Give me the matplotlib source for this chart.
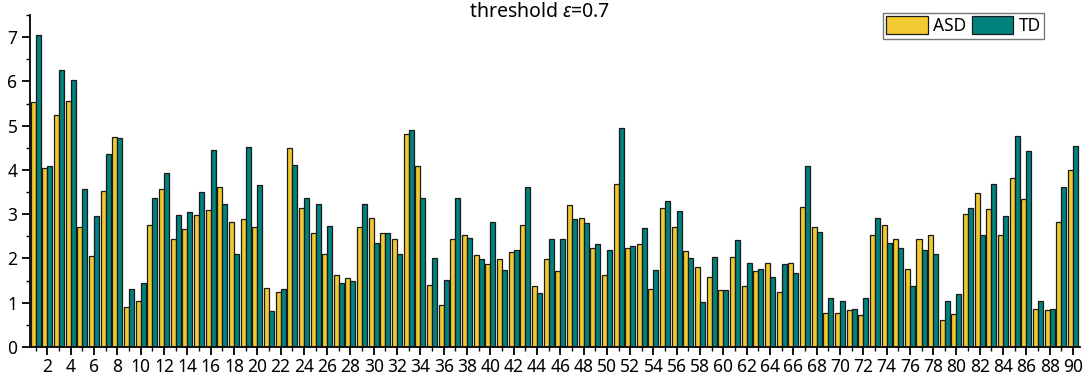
import matplotlib
matplotlib.use("Agg")
import matplotlib.pyplot as plt
from matplotlib.ticker import MultipleLocator
import numpy as np

categories = list(range(1, 91))
asd = [5.54, 4.05, 5.23, 5.56, 2.70, 2.05, 3.52, 4.75, 0.91, 1.03,
       2.75, 3.56, 2.45, 2.66, 2.98, 3.09, 3.61, 2.83, 2.89, 2.70,
       1.34, 1.25, 4.49, 3.14, 2.57, 2.11, 1.63, 1.56, 2.70, 2.91,
       2.57, 2.45, 4.81, 4.10, 1.41, 0.96, 2.45, 2.53, 2.07, 1.88,
       1.98, 2.14, 2.75, 1.38, 1.98, 1.72, 3.20, 2.91, 2.24, 1.63,
       3.69, 2.23, 2.32, 1.32, 3.13, 2.72, 2.17, 1.81, 1.59, 1.29,
       2.04, 1.37, 1.72, 1.90, 1.25, 1.90, 3.16, 2.70, 0.76, 0.76,
       0.83, 0.73, 2.53, 2.76, 2.45, 1.77, 2.44, 2.52, 0.60, 0.74,
       3.00, 3.48, 3.11, 2.52, 3.81, 3.35, 0.85, 0.83, 2.83, 4.00]
td = [7.05, 4.10, 6.25, 6.04, 3.56, 2.96, 4.37, 4.73, 1.31, 1.44,
      3.36, 3.92, 2.98, 3.05, 3.50, 4.46, 3.23, 2.11, 4.52, 3.67,
      0.81, 1.31, 4.12, 3.37, 3.23, 2.73, 1.44, 1.50, 3.22, 2.36,
      2.57, 2.11, 4.91, 3.37, 2.00, 1.52, 3.37, 2.47, 1.98, 2.82,
      1.75, 2.18, 3.62, 1.21, 2.44, 2.44, 2.89, 2.80, 2.33, 2.19,
      4.95, 2.29, 2.68, 1.75, 3.29, 3.08, 2.02, 1.02, 2.04, 1.28,
      2.42, 1.90, 1.77, 1.58, 1.87, 1.68, 4.09, 2.59, 1.10, 1.05,
      0.85, 1.10, 2.91, 2.36, 2.24, 1.38, 2.19, 2.10, 1.03, 1.19,
      3.13, 2.52, 3.68, 2.97, 4.77, 4.42, 1.05, 0.85, 3.61, 4.55]
series_names = ["ASD", "TD"]
title_text = r"threshold $\mathit{\varepsilon}$=0.7"

plt.rcParams['font.family'] = ['Noto Sans', 'DejaVu Sans']
plt.rcParams['mathtext.fontset'] = 'custom'
plt.rcParams['mathtext.it'] = 'Noto Sans:italic'
plt.rcParams['mathtext.rm'] = 'Noto Sans'

fig = plt.figure(figsize=(10.84, 3.81), dpi=100)
ax = fig.add_axes([30/1084, 1-347/381, 1050/1084, (347-15)/381])

x = np.array(categories, dtype=float)
w = 0.43
ax.bar(x - w/2, asd, width=w, color='#F2C930', edgecolor='#1a1a1a', linewidth=0.9, label=series_names[0])
ax.bar(x + w/2, td, width=w, color='#00827F', edgecolor='#1a1a1a', linewidth=0.9, label=series_names[1])

ax.set_xlim(0.5, 90.6)
ax.set_ylim(0, 7.5)
ax.xaxis.set_major_locator(MultipleLocator(2))
ax.xaxis.set_minor_locator(MultipleLocator(1))
ax.yaxis.set_major_locator(MultipleLocator(1))
ax.yaxis.set_minor_locator(MultipleLocator(0.5))
ax.set_xticks(range(2, 91, 2))
ax.set_xticklabels([str(v) for v in range(2, 91, 2)])
ax.tick_params(axis='both', which='major', direction='out', length=6, width=1.3, labelsize=12.5, pad=2)
ax.tick_params(axis='y', which='major', pad=3)
ax.tick_params(axis='both', which='minor', direction='out', length=3, width=1.0)
for s in ['top', 'right']:
    ax.spines[s].set_visible(False)
for s in ['left', 'bottom']:
    ax.spines[s].set_linewidth(1.3)

fig.text(540/1084, 1-12/381, title_text, ha='center', va='center', fontsize=14)

leg = fig.legend(loc='upper right', bbox_to_anchor=(1044/1084, 1-13/381), ncol=2,
                 fontsize=12.5, frameon=True, fancybox=False, handlelength=2.4,
                 handleheight=1.2, handletextpad=0.3, columnspacing=0.3,
                 borderpad=0.2, borderaxespad=0)
leg.get_frame().set_edgecolor('#555555')
leg.get_frame().set_linewidth(1.0)

fig.savefig('out.png', dpi=100)
